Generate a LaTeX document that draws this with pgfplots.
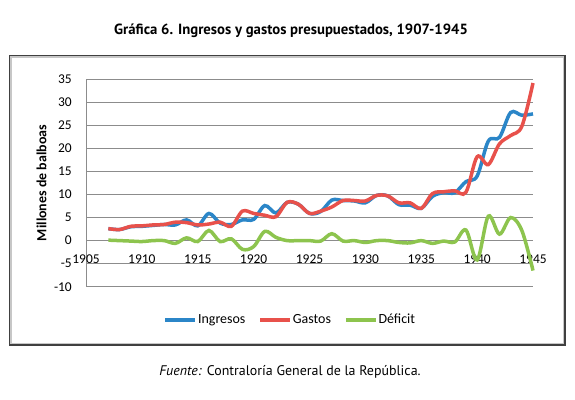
\documentclass[border=0pt]{standalone}
\usepackage{fontspec}
\setmainfont{Carlito}
\newfontfamily\titlefont{PT Sans}
\usepackage{pgfplots}
\usepackage{pgfplotstable}
\pgfplotsset{compat=1.18}

\definecolor{ingcol}{HTML}{2B86C8}
\definecolor{gascol}{HTML}{E8514B}
\definecolor{defcol}{HTML}{8DC44E}
\definecolor{gridcol}{HTML}{8C8C8C}

\pgfplotstableread{
year ing gas def
1907 2.6 2.6 0.1
1908 2.4 2.4 0.0
1909 3.0 3.1 -0.1
1910 3.1 3.2 -0.2
1911 3.3 3.4 0.0
1912 3.5 3.5 0.0
1913 3.4 4.0 -0.6
1914 4.5 3.9 0.6
1915 3.2 3.4 -0.2
1916 5.9 3.6 2.2
1917 3.8 4.0 -0.2
1918 3.5 3.1 0.4
1919 4.5 6.4 -1.9
1920 4.6 5.9 -1.3
1921 7.6 5.5 2.0
1922 6.0 5.2 0.7
1923 8.3 8.3 0.0
1924 7.9 7.9 0.0
1925 5.9 5.9 0.0
1926 6.3 6.4 -0.1
1927 8.8 7.3 1.5
1928 8.7 8.7 -0.1
1929 8.6 8.7 0.0
1930 8.2 8.6 -0.4
1931 9.8 9.8 0.0
1932 9.7 9.7 0.0
1933 7.8 8.2 -0.4
1934 7.7 8.2 -0.5
1935 7.0 7.0 0.0
1936 9.6 10.2 -0.6
1937 10.4 10.6 -0.1
1938 10.4 10.8 -0.3
1939 12.8 10.5 2.3
1940 14.0 18.2 -4.2
1941 21.6 16.5 5.3
1942 22.4 21.0 1.4
1943 27.8 22.8 5.0
1944 27.2 24.8 2.2
1945 27.5 34.2 -6.5
}\datatable

\begin{document}
\begin{tikzpicture}[x=1bp,y=1bp]
\path[use as bounding box] (0,0) rectangle (575,399);
% frame
\draw[black!75, line width=1.3bp] (9.5,54) rectangle (565,343.5);
\draw[black!22, line width=1.3bp] (11,55.5) rectangle (563.5,342);
% title
\node[font=\titlefont\bfseries\fontsize{14.8}{16}\selectfont] at (291,368) {Gráfica 6. Ingresos y gastos presupuestados, 1907-1945};
% y label
\node[rotate=90, font=\bfseries\fontsize{14}{16}\selectfont] at (41.5,216) {Millones de balboas};
% source
\node[font=\titlefont\fontsize{14}{16}\selectfont] at (290,27) {\textit{Fuente:} Contraloría General de la República.};
\begin{axis}[
  at={(86bp,112.3bp)}, anchor=south west,
  scale only axis, width=447bp, height=207.4bp,
  xmin=1905, xmax=1945, ymin=-10, ymax=35,
  xtick={1905,1910,...,1945}, ytick={-10,-5,...,35},
  axis x line*=bottom, axis y line*=left,
  axis line style={gridcol, line width=1bp},
  ymajorgrids, grid style={gridcol, line width=1bp},
  major tick length=0pt,
  tick label style={font=\fontsize{13.5}{15}\selectfont, /pgf/number format/assume math mode=true, /pgf/number format/1000 sep={}},
  xticklabel style={anchor=center, yshift=27.4bp},
  yticklabel style={anchor=east, inner sep=0pt, xshift=-14bp},
  clip=false,
  legend columns=3,
  legend style={at={(0.456,-0.16)}, anchor=center, draw=none, fill=none,
    font=\fontsize{14}{16}\selectfont, nodes={inner sep=1bp},
    /tikz/every even column/.append style={column sep=12bp}},
  legend image code/.code={\draw[#1, line width=3.5bp] (0bp,0bp) -- (30bp,0bp);},
]
\addplot[ingcol, line width=3.5bp, smooth, tension=0.55] table[x=year, y=ing] {\datatable};
\addlegendentry{Ingresos}
\addplot[gascol, line width=3.5bp, smooth, tension=0.55] table[x=year, y=gas] {\datatable};
\addlegendentry{Gastos}
\addplot[defcol, line width=3.5bp, smooth, tension=0.55] table[x=year, y=def] {\datatable};
\addlegendentry{Déficit}
\end{axis}
\end{tikzpicture}
\end{document}
